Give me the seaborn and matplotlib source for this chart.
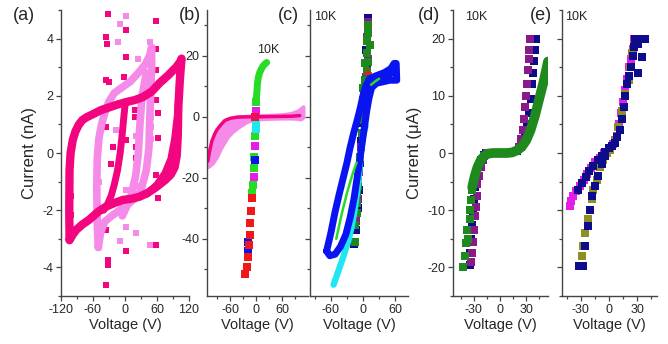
import matplotlib
matplotlib.use("Agg")
import matplotlib.pyplot as plt
from matplotlib.ticker import MultipleLocator
import seaborn as sns

# ---- panel (a): current in nA ----
a_loop_v = [-104, -104.5, -104, -102, -98, -93, -87, -80, -72, -61, -45, -29, -13, 2, 18, 33, 50, 65, 80, 96, 104, 106,
            103, 100, 99, 97, 93, 86, 75, 58, 42, 27, 12, -4, -20, -35, -50, -67, -80, -91, -98, -104]
a_loop_i = [-3.0, -2.0, -0.6, 0.0, 0.45, 0.75, 0.98, 1.15, 1.25, 1.35, 1.5, 1.6, 1.7, 1.78, 1.85, 1.95, 2.15, 2.45, 2.7, 3.0, 3.2, 3.3,
            2.6, 1.6, 0.6, -0.1, -0.5, -0.75, -0.95, -1.2, -1.4, -1.53, -1.6, -1.64, -1.75, -1.87, -2.05, -2.33, -2.5, -2.68, -2.85, -3.05]
a_s_left_v = [-40, -33, -26, -20, -14, -9, -5, -2, 0, 3]
a_s_left_i = [-2.0, -1.8, -1.5, -1.1, -0.6, 0.0, 0.7, 1.3, 1.65, 1.8]
a_s_right_v = [40, 60, 75, 86, 93, 98, 101, 103]
a_s_right_i = [-1.45, -1.1, -0.7, -0.2, 0.5, 1.3, 2.0, 2.8]
a_lp_v = [-50, -52, -53, -52, -49, -44, -38, -30, -20, -5, 10, 25, 38, 46, 50, 50, 48, 46, 45, 40, 30, 18, 5, -10, -25, -38, -46, -50]
a_lp_i = [-3.3, -2.5, -1.2, -0.2, 0.5, 1.0, 1.4, 1.8, 2.1, 2.3, 2.5, 2.8, 3.1, 3.4, 3.7, 3.0, 2.0, 1.0, 0.2, -0.6, -1.3, -1.6, -1.8, -2.0, -2.2, -2.4, -2.8, -3.3]
a_lp_s_v = [-5, 10, 20, 25, 28, 32, 40]
a_lp_s_i = [-2.2, -1.6, -0.8, 0.0, 1.0, 2.0, 2.8]
a_dot_v = [-32, -35, -34, 2, 2, 58.5, 58.5, -35, -30, -1, 58.5, 58.5, 61, 61, 58.5, 61, 58.5, -35, -23, -26, 2, 21, 21, 18, 18,
           -35, -32, -32, -35, 1, -101, -101]
a_dot_i = [4.87, 4.05, 3.82, 4.29, 3.36, 4.63, 3.65, 2.54, 2.5, 2.66, 2.9, 1.85, 1.39, 0.52, -0.77, -1.57, -3.2, 0.92, 0.22, -0.4, 0.45, -0.19, 0.22, 1.26, 1.49,
           -2.68, -3.73, -3.9, -4.6, -3.44, -1.52, -2.16]
a_ldot_v = [2, -10, -13.5, 24, 46, -48, -16.5, 21, 49, 49, 48, 2, 1, 21, -10, 46, -48, 21]
a_ldot_i = [4.8, 4.52, 3.88, 3.3, 3.88, -1.0, 0.8, 0.6, 1.27, 0.9, 0.5, -1.29, -2.57, -2.8, -3.09, -3.2, 0.2, -1.15]

# ---- panel (b) ----
b_band_v = [-111, -105, -99, -90, -83, -75, -65, -55, -44, -30, -21, -10, 3, 30, 60, 80, 95, 101, 106, 108]
b_band_lo = [-16.4, -15.8, -15, -13, -10.8, -8.8, -6.5, -5, -3.7, -2.4, -1.6, -1.1, -0.8, -0.6, -0.5, -0.5, -0.6, -0.8, -0.5, 0]
b_band_hi = [-12, -9.5, -7, -4.5, -3.2, -2.0, -1.0, -0.4, 0, 0.2, 0.3, 0.4, 0.5, 0.6, 0.8, 1.2, 2.0, 2.6, 3.2, 3.4]
b_pink_v = [-111, -108, -102, -95, -90, -80, -72, -60, -44, -20, 0, 40, 80, 100]
b_pink_i = [-14.5, -12, -8, -5.5, -4.2, -2.4, -1.2, -0.5, -0.1, 0, 0, 0.1, 0.2, 0.4]
b_green_v = [0, 1.5, 3, 5, 8, 12, 16, 20, 24]
b_green_i = [5, 8, 11, 13, 14.5, 15.7, 16.7, 17.3, 17.8]
b_gsq_v = [0, -2, -4, -5, -7, -9]
b_gsq_i = [4.7, -6.4, -13, -16.8, -22.3, -25]
b_msq_v = [0, -2, -6]
b_msq_i = [1.75, -9.7, -19.6]
b_csq_v = [0, 0]
b_csq_i = [-2.5, -4]
b_bsq_v = [0, -2, -18, -19]
b_bsq_i = [1.2, -14.1, -40.9, -43.8]
b_rsq_v = [-2, -10, -11.5, -14, -15, -16, -18, -21, -25]
b_rsq_i = [0, -26.7, -31, -34.9, -38.7, -42, -45.8, -49.1, -51.5]

# ---- panel (c) ----
c_cyan_v = [-55, -45, -37, -28, -21, -16, -12, -8, -4, 0, 5]
c_cyan_i = [-55, -50, -46, -41, -36, -31, -26, -20, -12, -6, -3]
c_blue_v = [-68, -60, -52, -44, -37, -30, -24, -17, -10, -5, 0, 5, 12, 25, 40, 52, 58, 62, 63, 60, 50, 38, 25, 16, 11, 7, 3,
            -2, -6, -11, -17, -24, -32, -42, -52, -62, -68]
c_blue_i = [-44, -38, -31, -25, -20, -15, -10, -5, -0.5, 3, 7, 10, 12.5, 13.5, 14.5, 15.8, 17.5, 17.5, 12, 12, 12, 11.5, 11, 9.5, 6, 2, -3,
            -9, -14, -20, -27, -33, -38.5, -42.5, -45, -45.5, -44]
c_blue_mid_v = [8, 20, 35, 50, 60]
c_blue_mid_i = [10, 12, 13, 14, 15]
c_green_v = [-50, -40, -30, -20, -12]
c_green_i = [-40, -32, -25, -19, -15]
c_green2_v = [15, 22, 30]
c_green2_i = [10.5, 11.5, 12.5]
c_navy_v = [10, 9, 6, 8, 4, 1, -1, -3, -5, -8, -10, -13, -16]
c_navy_i = [32.5, 29, 22, 16, 10, 4, -2, -8, -15, -24, -30, -37, -41.5]
c_purple_v = [10, 8, 9, 5, 2, -2, -4, -7, -10, -13]
c_purple_i = [31, 26, 19, 13, 7, 0, -10, -18, -27, -34]
c_dgreen_v = [10, 10, 7, 13, 7, 10, 4, 7, 4, 0.6, 0.6, -0.6, -2.5, -2.5, -5.6, -7, -9, -9, -12, -12, -12, -15, -15]
c_dgreen_i = [30.2, 27.4, 24.7, 23.6, 20.9, 18.1, 17.6, 14.9, 12.1, 9.4, 5.6, 2.3, -1, -5.4, -13, -16.3, -19.6, -22.8, -25,
              -28.3, -31.6, -35.4, -40.9]

# ---- panel (d): current in uA ----
d_green_v = [-32, -29, -26, -22, -18, -14, -8, 0, 8, 14, 20, 25, 30, 35, 40, 45, 50, 55]
d_green_i = [-6, -4, -2.5, -1.2, -0.5, -0.1, 0, 0, 0, 0.1, 0.5, 1.1, 2.2, 4, 6.5, 9.5, 12.5, 16]
d_gsq_v = [-43, -40, -39, -37, -38, -35, -34, -33, -32]
d_gsq_i = [-20, -18, -15.8, -15, -13.4, -11.5, -10, -8.2, -6.4]
d_navy_v = [-35, -34, -33, -32, -31, -30, -29, -27, -25, -22, -19, -16,
            20, 24, 27, 29, 31, 33, 35, 37, 38, 39, 40, 41]
d_navy_i = [-19.5, -17.5, -15, -12.5, -10.5, -8, -6, -4, -2.5, -1.2, -0.4, 0,
            0.3, 1, 2.2, 3.5, 5, 7, 9.5, 12, 14, 16, 18, 20]
d_purple_v = [-33, -32, -31, -30, -29, -28, -27, -26, -24, -22, -20, -18, -15,
              18, 22, 24, 26, 28, 29, 30, 31, 32, 33, 33.5, 34]
d_purple_i = [-19, -17.5, -15.5, -13.5, -11, -9.5, -7.5, -5.5, -4, -2.5, -1.3, -0.5, 0,
              0.3, 1, 2.5, 4, 6, 8, 10, 12, 14.5, 16.5, 18, 20]

# ---- panel (e) ----
e_mag_v = [-42, -40, -38, -35, -31, -27, -23, -19, -15, -10, -5, 0, 4, 8, 11, 13, 15, 17, 19, 21, 23, 25, 27, -31]
e_mag_i = [-9.3, -8.4, -7.6, -6.6, -5.8, -4.7, -3.6, -2.6, -1.6, -0.8, 0, 0.6, 1.5, 3, 5, 7, 9, 11, 13, 15, 16.5, 18.2, 20, -19.7]
e_olive_v = [-29, -27.5, -25.7, -22.2, -20.4, -18.6, -16.8, -13.2, -9.6, -6.1, -2.5, 1, 6.4, 10, 13.6, 17.1, 20.7, 22.5, 24.3, 26.1, 27.9]
e_olive_i = [-18, -16.2, -13.9, -11.6, -9.9, -8.1, -6.4, -4.7, -2.4, -1.2, 0, 0.6, 2.3, 4.6, 7.4, 10.3, 12.7, 15, 17.4, 19, 20]
e_navy_v = [-33, -29, -25, -21, -17, -12, -8, -4, 0, 3, 6, 9, 12, 14, 16, 17, 19, 21, 23, 25, 27, 28, 33, 38, 31, 35, 31,
            -32, -28, -26, -22, -20, -18, -15, -12, -8, -4]
e_navy_i = [-6.5, -5.3, -4.2, -3.2, -2.3, -1.3, -0.5, 0.2, 0.8, 1.2, 1.8, 2.8, 4, 6, 8, 10, 12, 13.5, 15, 17, 18.5, 20, 20, 20, 14, 16.8, 19,
            -19.7, -19.7, -16.2, -12.8, -10, -7.5, -5.8, -4.1, -2, -0.6]

PINK = "#f2057e"
LPINK = "#f68ae8"
GREEN = "#26dc26"
MAGENTA = "#e41ee8"
CYAN = "#1ee6f2"
BLUE = "#0a14f0"
RED = "#f01818"
NAVY = "#0c0c8c"
PURPLE = "#8a1a8a"
DGREEN = "#1e8a1e"
OLIVE = "#8e8e22"

sns.set_style("ticks")
plt.rcParams["font.family"] = ["Liberation Sans", "DejaVu Sans"]
plt.rcParams["axes.unicode_minus"] = False

fig = plt.figure(figsize=(6.68, 3.44), dpi=100)


def add_ax(l, r, t=10, b=296):
    return fig.add_axes([l / 668, (344 - b) / 344, (r - l) / 668, (b - t) / 344])


def style(ax, xlim, ylim, xmaj, ymaj, ylabels=True):
    ax.set_xlim(xlim)
    ax.set_ylim(ylim)
    ax.xaxis.set_major_locator(MultipleLocator(xmaj))
    ax.xaxis.set_minor_locator(MultipleLocator(xmaj / 2))
    ax.yaxis.set_major_locator(MultipleLocator(ymaj))
    ax.yaxis.set_minor_locator(MultipleLocator(ymaj / 2))
    for s in ["top", "right"]:
        ax.spines[s].set_visible(False)
    for s in ["left", "bottom"]:
        ax.spines[s].set_color("#444444")
        ax.spines[s].set_linewidth(1.0)
    ax.tick_params(which="major", length=3.5, width=0.9, color="#444444", labelsize=9, pad=2)
    ax.tick_params(which="minor", length=2, width=0.9, color="#444444")
    if not ylabels:
        ax.tick_params(axis="y", labelleft=False)
    ax.set_xlabel("Voltage (V)", fontsize=10.5, labelpad=2)
    ax.set_ylabel("")


def sq(ax, x, y, c, s=26):
    sns.scatterplot(x=x, y=y, ax=ax, color=c, marker="s", s=s, linewidth=0)


def band(ax, x, y, c, lw):
    sns.lineplot(x=x, y=y, ax=ax, color=c, lw=lw, sort=False, estimator=None)


# (a)
ax = add_ax(61, 189)
band(ax, a_lp_v, a_lp_i, LPINK, 5.5)
band(ax, a_lp_s_v, a_lp_s_i, LPINK, 5.5)
sq(ax, a_ldot_v, a_ldot_i, LPINK, 22)
band(ax, a_loop_v, a_loop_i, PINK, 6)
band(ax, a_s_left_v, a_s_left_i, PINK, 5)
band(ax, a_s_right_v, a_s_right_i, PINK, 5)
sq(ax, a_dot_v, a_dot_i, PINK, 22)
style(ax, (-120, 120), (-5, 5), 60, 2)
ax.set_ylabel("Current (nA)", fontsize=12, labelpad=4)

# (b)
ax = add_ax(207, 308)
ax.fill_between(b_band_v, b_band_lo, b_band_hi, color=LPINK, lw=2.5, edgecolor=LPINK)
band(ax, b_pink_v, b_pink_i, PINK, 2.5)
band(ax, b_green_v, b_green_i, GREEN, 5)
sq(ax, b_gsq_v, b_gsq_i, GREEN)
sq(ax, b_bsq_v, b_bsq_i, BLUE)
sq(ax, b_msq_v, b_msq_i, MAGENTA)
sq(ax, b_csq_v, b_csq_i, CYAN)
sq(ax, b_rsq_v, b_rsq_i, RED)
style(ax, (-113, 119), (-58.7, 35), 60, 20)
ax.text(28, 22, "10K", fontsize=9, ha="center", va="center")

# (c)
ax = add_ax(310, 408)
band(ax, c_cyan_v, c_cyan_i, CYAN, 4.5)
band(ax, c_blue_v, c_blue_i, BLUE, 5)
band(ax, c_blue_mid_v, c_blue_mid_i, BLUE, 5)
band(ax, c_green_v, c_green_i, GREEN, 1.8)
band(ax, c_green2_v, c_green2_i, GREEN, 1.8)
sq(ax, c_navy_v, c_navy_i, NAVY)
sq(ax, c_purple_v, c_purple_i, PURPLE)
sq(ax, c_dgreen_v, c_dgreen_i, DGREEN)
sns.scatterplot(x=[9], y=[14.5], ax=ax, color=RED, marker="+", s=40, linewidth=1.2)
style(ax, (-99, 84), (-58.7, 35), 60, 20, ylabels=False)
ax.text(0.04, 0.975, "10K", transform=ax.transAxes, fontsize=9, va="center")

# (d)
ax = add_ax(453, 548)
sq(ax, d_navy_v, d_navy_i, NAVY, 30)
sq(ax, d_purple_v, d_purple_i, PURPLE, 30)
band(ax, d_green_v, d_green_i, DGREEN, 7)
sq(ax, d_gsq_v, d_gsq_i, DGREEN, 30)
style(ax, (-54, 55), (-25, 25), 30, 10)
ax.set_ylabel("Current (μA)", fontsize=12, labelpad=4)
ax.text(0.13, 0.975, "10K", transform=ax.transAxes, fontsize=9, va="center")

# (e)
ax = add_ax(562, 657)
sq(ax, e_mag_v, e_mag_i, MAGENTA, 30)
sq(ax, e_olive_v, e_olive_i, OLIVE, 30)
sq(ax, e_navy_v, e_navy_i, NAVY, 30)
style(ax, (-50, 51), (-25, 25), 30, 10, ylabels=False)
ax.text(0.03, 0.975, "10K", transform=ax.transAxes, fontsize=9, va="center")

for lab, x in [("(a)", 24), ("(b)", 190), ("(c)", 288), ("(d)", 429), ("(e)", 541)]:
    fig.text(x / 668, 1 - 16 / 344, lab, fontsize=13, ha="center", va="center")

fig.savefig("out.png", dpi=100)
